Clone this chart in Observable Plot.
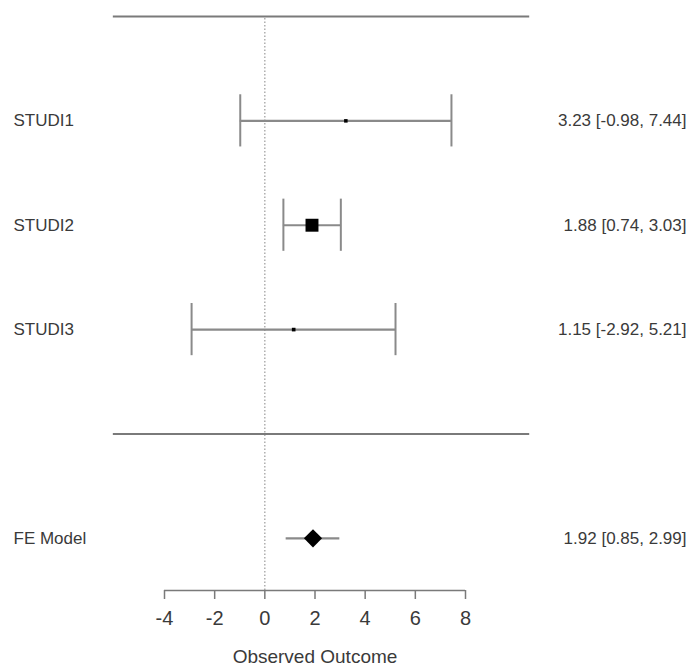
<!DOCTYPE html>
<html>
<head>
<meta charset="utf-8">
<script src="https://cdn.jsdelivr.net/npm/d3@7"></script>
<script src="https://cdn.jsdelivr.net/npm/@observablehq/plot@0.6"></script>
<style>
  html, body { margin: 0; padding: 0; background: #fff; }
  svg { display: block; }
</style>
</head>
<body>
<div id="chart"></div>
<script>
// ---- data ----
const studyLabels = ["STUDI1", "STUDI2", "STUDI3"];
const studyEstimates = [3.23, 1.88, 1.15];
const studyLower = [-0.98, 0.74, -2.92];
const studyUpper = [7.44, 3.03, 5.21];
const studyRows = [3, 2, 1];

const summaryLabel = "FE Model";
const summaryEstimate = 1.92;
const summaryLower = 0.85;
const summaryUpper = 2.99;
const summaryRow = -1;

const separatorRows = [4, 0];
const xTicks = [-4, -2, 0, 2, 4, 6, 8];
const xLabel = "Observed Outcome";

// ---- derived tables ----
const fmt = v => v.toFixed(2);
const studies = studyLabels.map((label, i) => {
  const se = (studyUpper[i] - studyLower[i]) / (2 * 1.96);
  return {
    label,
    yi: studyEstimates[i],
    lo: studyLower[i],
    hi: studyUpper[i],
    row: studyRows[i],
    w: 1 / (se * se),
    text: `${fmt(studyEstimates[i])} [${fmt(studyLower[i])}, ${fmt(studyUpper[i])}]`
  };
});
const summary = [{
  label: summaryLabel,
  yi: summaryEstimate,
  lo: summaryLower,
  hi: summaryUpper,
  row: summaryRow,
  text: `${fmt(summaryEstimate)} [${fmt(summaryLower)}, ${fmt(summaryUpper)}]`
}];
const allRows = [...studies, ...summary];
const maxW = d3.max(studies, d => d.w);

const lineColor = "#7a7a7a";
const barColor = "#8a8a8a";
const textColor = "#3a3a3a";
const xLineStart = -6.04, xLineEnd = 10.56;
const yBottom = -1.5, yTop = 4;

const plot = Plot.plot({
  width: 687,
  height: 668,
  marginTop: 16,
  marginBottom: 78,
  marginLeft: 164,
  marginRight: 222,
  style: { fontFamily: "'Liberation Sans', Arial, Helvetica, sans-serif", background: "#fff", overflow: "visible" },
  x: { domain: [-4, 8], axis: null },
  y: { domain: [yBottom, yTop], axis: null },
  r: { type: "sqrt", domain: [0, maxW], range: [0, 7.3] },
  marks: [
    // dotted reference line at 0
    Plot.ruleX([0], { y1: yBottom, y2: yTop, stroke: "#9a9a9a", strokeWidth: 1.2, strokeDasharray: "1.5,2" }),
    // separator lines
    Plot.ruleY(separatorRows, { x1: xLineStart, x2: xLineEnd, stroke: lineColor, strokeWidth: 2 }),
    // CI lines
    Plot.ruleY(allRows, { y: "row", x1: "lo", x2: "hi", stroke: barColor, strokeWidth: 2.2 }),
    // whiskers
    Plot.ruleX(studies, { x: "lo", y1: d => d.row - 0.25, y2: d => d.row + 0.25, stroke: barColor, strokeWidth: 2 }),
    Plot.ruleX(studies, { x: "hi", y1: d => d.row - 0.25, y2: d => d.row + 0.25, stroke: barColor, strokeWidth: 2 }),
    // study squares
    Plot.dot(studies, { x: "yi", y: "row", r: "w", symbol: "square", fill: "black", stroke: "none" }),
    // summary diamond
    Plot.dot(summary, { x: "yi", y: "row", r: 8.2, symbol: "diamond2", fill: "black", stroke: "none" }),
    // left labels
    Plot.text(allRows, { y: "row", text: "label", frameAnchor: "left", dx: -151, textAnchor: "start", fontSize: 17, fill: textColor }),
    // right annotations
    Plot.text(allRows, { y: "row", text: "text", frameAnchor: "right", dx: 221, textAnchor: "end", fontSize: 17, fill: textColor }),
    // x axis line
    Plot.ruleY([yBottom], { x1: xTicks[0], x2: xTicks[xTicks.length - 1], stroke: lineColor, strokeWidth: 1.5 }),
    Plot.axisX({ ticks: xTicks, tickFormat: d => String(d), tickSize: 9, tickPadding: 11, fontSize: 20, label: null, stroke: lineColor, strokeWidth: 1.5, color: textColor }),
    Plot.text([xLabel], { frameAnchor: "bottom", dy: 72, fontSize: 19, fill: textColor })
  ]
});
document.getElementById("chart").appendChild(plot);
</script>
</body>
</html>
